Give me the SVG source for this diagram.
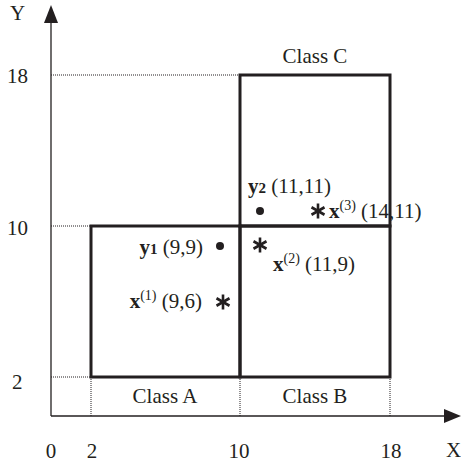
<svg xmlns="http://www.w3.org/2000/svg" width="461" height="469" viewBox="0 0 461 469">
<style>
text{font-family:"Liberation Serif","Times New Roman",serif;font-size:21px;fill:#231f20}
.b{font-weight:bold}
.sup{font-size:14px}
.sub{font-size:15px;font-weight:bold}
.axis{stroke:#231f20;stroke-width:1.3;fill:none}
.dot{stroke:#231f20;stroke-width:1;stroke-dasharray:1 1;fill:none}
.box{stroke:#231f20;stroke-width:3;fill:none}
.ast{stroke:#231f20;stroke-width:2.6;stroke-linecap:butt}
</style>
<defs>
<g id="star">
<line class="ast" x1="0" y1="-7.5" x2="0" y2="7.5"/>
<line class="ast" x1="-6.5" y1="-3.75" x2="6.5" y2="3.75"/>
<line class="ast" x1="-6.5" y1="3.75" x2="6.5" y2="-3.75"/>
</g>
</defs>
<g id="connectors">
<line class="axis" x1="51" y1="416" x2="51" y2="20"/>
<polygon points="51,5 44,23 58,23" fill="#231f20"/>
<line class="axis" x1="51" y1="416" x2="446" y2="416"/>
<polygon points="461,416 444,409 444,423" fill="#231f20"/>
<line class="dot" x1="51" y1="75" x2="240" y2="75"/>
<line class="dot" x1="51" y1="226" x2="91" y2="226"/>
<line class="dot" x1="51" y1="377" x2="91" y2="377"/>
<line class="dot" x1="91" y1="377" x2="91" y2="416"/>
<line class="dot" x1="240" y1="377" x2="240" y2="416"/>
<line class="dot" x1="390" y1="377" x2="390" y2="416"/>
</g>
<g id="classA">
<rect class="box" x="91" y="226" width="149" height="151"/>
<text x="165" y="403" text-anchor="middle">Class A</text>
</g>
<g id="classB">
<rect class="box" x="240" y="226" width="150" height="151"/>
<text x="315" y="403" text-anchor="middle">Class B</text>
</g>
<g id="classC">
<rect class="box" x="240" y="75" width="150" height="151"/>
<text x="315" y="63" text-anchor="middle">Class C</text>
</g>
<g id="labels">
<text x="10" y="20">Y</text>
<text x="7" y="83">18</text>
<text x="7" y="235">10</text>
<text x="12" y="389">2</text>
<text x="51" y="458" text-anchor="middle">0</text>
<text x="92" y="458" text-anchor="middle">2</text>
<text x="239" y="458" text-anchor="middle">10</text>
<text x="391" y="458" text-anchor="middle">18</text>
<text x="446" y="457">X</text>
</g>
<g id="y1">
<circle cx="220" cy="246" r="4" fill="#231f20"/>
<text x="203" y="254" text-anchor="end"><tspan class="b">y</tspan><tspan class="sub">1</tspan> (9,9)</text>
</g>
<g id="x1">
<use href="#star" x="223" y="302"/>
<text x="202" y="308" text-anchor="end"><tspan class="b">x</tspan><tspan class="sup" dy="-8">(1)</tspan><tspan dy="8"> (9,6)</tspan></text>
</g>
<g id="y2">
<circle cx="260" cy="211" r="4" fill="#231f20"/>
<text x="248" y="193"><tspan class="b">y</tspan><tspan class="sub">2</tspan> (11,11)</text>
</g>
<g id="x3">
<use href="#star" x="318" y="211"/>
<text x="329" y="218"><tspan class="b">x</tspan><tspan class="sup" dy="-8">(3)</tspan><tspan dy="8"> (14,11)</tspan></text>
</g>
<g id="x2">
<use href="#star" x="260" y="245"/>
<text x="273" y="271"><tspan class="b">x</tspan><tspan class="sup" dy="-8">(2)</tspan><tspan dy="8"> (11,9)</tspan></text>
</g>
</svg>
